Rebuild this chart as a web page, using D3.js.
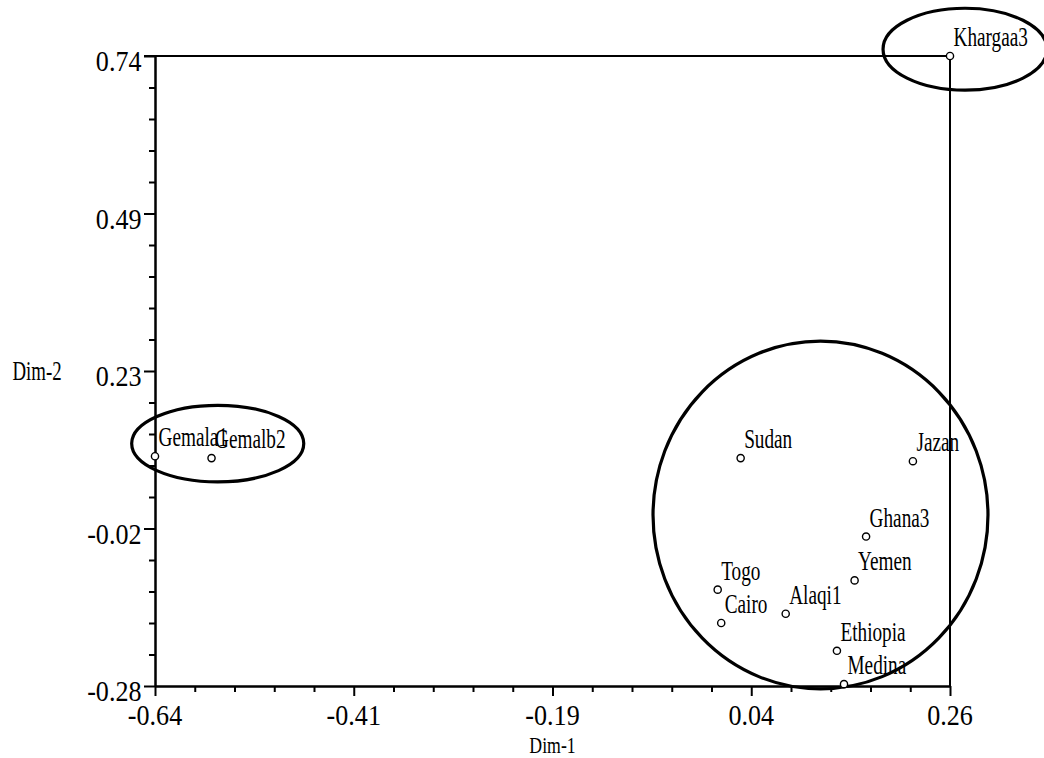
<!DOCTYPE html>
<html>
<head>
<meta charset="utf-8">
<script src="https://cdn.jsdelivr.net/npm/d3@7"></script>
<style>
  html, body { margin: 0; padding: 0; background: #fff; }
  svg { display: block; }
  text { font-family: "Liberation Serif", "Times New Roman", serif; fill: #000; }
</style>
</head>
<body>
<svg id="chart" width="1044" height="758"></svg>
<script>
// ---- data ----
const labels = ["Khargaa3", "Gemala1", "Gemalb2", "Sudan", "Jazan", "Ghana3", "Yemen", "Togo", "Cairo", "Alaqi1", "Ethiopia", "Medina"];
const dim1 = [0.26, -0.64, -0.576, 0.023, 0.218, 0.165, 0.152, -0.003, 0.001, 0.074, 0.132, 0.140];
const dim2 = [0.74, 0.092, 0.089, 0.089, 0.084, -0.038, -0.109, -0.124, -0.178, -0.163, -0.223, -0.277];

const xTickValues = [-0.64, -0.415, -0.19, 0.035, 0.26];
const xTickLabels = ["-0.64", "-0.41", "-0.19", "0.04", "0.26"];
const yTickValues = [0.74, 0.485, 0.23, -0.025, -0.28];
const yTickLabels = ["0.74", "0.49", "0.23", "-0.02", "-0.28"];

// cluster ellipses (data units): centre x, centre y, radius x, radius y
const ellipseCx = [0.277, -0.569, 0.1134];
const ellipseCy = [0.751, 0.1125, -0.0031];
const ellipseRx = [0.0928, 0.0974, 0.1896];
const ellipseRy = [0.0663, 0.062, 0.2815];

const xTitle = "Dim-1";
const yTitle = "Dim-2";

// ---- layout ----
const svg = d3.select("#chart");
const x = d3.scaleLinear().domain([-0.64, 0.26]).range([155, 950]);
const y = d3.scaleLinear().domain([-0.28, 0.74]).range([686, 56]);

function minorTicks(majors) {
  const out = [];
  for (let i = 0; i < majors.length - 1; i++) {
    const a = majors[i], b = majors[i + 1];
    for (let k = 1; k < 5; k++) out.push(a + (b - a) * k / 5);
  }
  return out;
}

const lineW = 2;

// frame lines (top and right)
svg.append("line")
  .attr("x1", x(-0.64) - 11).attr("x2", x(0.26))
  .attr("y1", y(0.74)).attr("y2", y(0.74))
  .attr("stroke", "#000").attr("stroke-width", lineW);
svg.append("line")
  .attr("x1", x(0.26)).attr("x2", x(0.26))
  .attr("y1", y(0.74)).attr("y2", y(-0.28))
  .attr("stroke", "#000").attr("stroke-width", lineW);

// x axis
const gx = svg.append("g").attr("transform", `translate(0,${y(-0.28)})`);
gx.call(d3.axisBottom(x).tickValues(xTickValues).tickSize(10).tickSizeOuter(0).tickFormat(""));
gx.append("g").call(d3.axisBottom(x).tickValues(minorTicks(xTickValues)).tickSize(6).tickSizeOuter(0).tickFormat(""));
gx.selectAll("path.domain").attr("stroke-width", lineW).attr("stroke", "#000");
gx.selectAll(".tick line").attr("stroke-width", lineW).attr("stroke", "#000");

// y axis
const gy = svg.append("g").attr("transform", `translate(${x(-0.64)},0)`);
gy.call(d3.axisLeft(y).tickValues(yTickValues).tickSize(11).tickSizeOuter(0).tickFormat(""));
gy.append("g").call(d3.axisLeft(y).tickValues(minorTicks(yTickValues)).tickSize(6).tickSizeOuter(0).tickFormat(""));
gy.selectAll("path.domain").attr("stroke-width", lineW).attr("stroke", "#000");
gy.selectAll(".tick line").attr("stroke-width", lineW).attr("stroke", "#000");

// tick labels (condensed serif)
svg.append("g").selectAll("g").data(xTickValues).join("g")
  .attr("transform", d => `translate(${x(d)},725) scale(0.9,1)`)
  .append("text")
  .attr("text-anchor", "middle")
  .style("font-size", "29px")
  .text((d, i) => xTickLabels[i]);

svg.append("g").selectAll("g").data(yTickValues).join("g")
  .attr("transform", d => `translate(141.5,${y(d) + 15}) scale(0.9,1)`)
  .append("text")
  .attr("text-anchor", "end")
  .style("font-size", "29px")
  .text((d, i) => yTickLabels[i]);

// axis titles
svg.append("g").attr("transform", `translate(${x(-0.19)},752.8) scale(0.74,1)`)
  .append("text").attr("text-anchor", "middle").style("font-size", "24px").text(xTitle);
svg.append("g").attr("transform", `translate(12.5,379.5) scale(0.71,1)`)
  .append("text").attr("text-anchor", "start").style("font-size", "26.5px").text(yTitle);

// ellipses
svg.append("g").selectAll("ellipse").data(ellipseCx).join("ellipse")
  .attr("cx", d => x(d))
  .attr("cy", (d, i) => y(ellipseCy[i]))
  .attr("rx", (d, i) => x(ellipseRx[i]) - x(0))
  .attr("ry", (d, i) => y(0) - y(ellipseRy[i]))
  .attr("fill", "none").attr("stroke", "#000").attr("stroke-width", 3.2);

// point labels
const pts = labels.map((name, i) => ({ name, vx: dim1[i], vy: dim2[i] }));
svg.append("g").selectAll("g").data(pts).join("g")
  .attr("transform", d => `translate(${x(d.vx) + 3.5},${y(d.vy) - 10}) scale(0.7,1)`)
  .append("text")
  .style("font-size", "27.5px")
  .text(d => d.name);

// points
svg.append("g").selectAll("circle").data(pts).join("circle")
  .attr("cx", d => x(d.vx))
  .attr("cy", d => y(d.vy))
  .attr("r", 3.6)
  .attr("fill", "#fff").attr("stroke", "#000").attr("stroke-width", 1.4);
</script>
</body>
</html>
